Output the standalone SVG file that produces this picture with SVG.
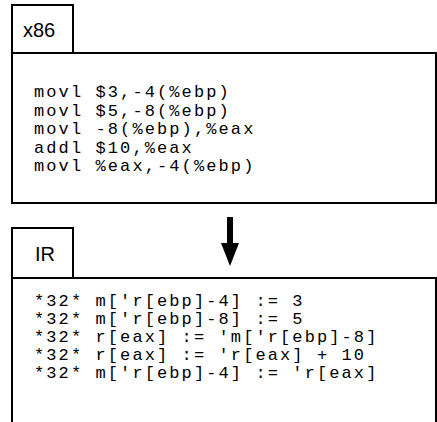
<svg xmlns="http://www.w3.org/2000/svg" width="437" height="422" viewBox="0 0 437 422">
<style>
.box{fill:#fff;stroke:#000;stroke-width:2}
.tab{font-family:"Liberation Sans",Arial,sans-serif;font-size:20px;fill:#000}
.code{font-family:"Liberation Mono","Courier New",monospace;font-size:17px;letter-spacing:2.1px;fill:#000;white-space:pre}
</style>
<rect width="437" height="422" fill="#fff"/>
<g id="x86">
<rect class="box" x="12" y="5" width="61" height="48"/>
<rect class="box" x="12" y="53" width="424" height="150"/>
<text class="tab" x="23" y="37">x86</text>
<text class="code" x="34" y="97" xml:space="preserve">movl $3,-4(%ebp)</text>
<text class="code" x="34" y="115.5" xml:space="preserve">movl $5,-8(%ebp)</text>
<text class="code" x="34" y="134" xml:space="preserve">movl -8(%ebp),%eax</text>
<text class="code" x="34" y="152.5" xml:space="preserve">addl $10,%eax</text>
<text class="code" x="34" y="171" xml:space="preserve">movl %eax,-4(%ebp)</text>
</g>
<g id="IR">
<rect class="box" x="12" y="228" width="61" height="50"/>
<rect class="box" x="12" y="278" width="424" height="200"/>
<text class="tab" x="35" y="261">IR</text>
<text class="code" x="34" y="306" xml:space="preserve">*32* m['r[ebp]-4] := 3</text>
<text class="code" x="34" y="324" xml:space="preserve">*32* m['r[ebp]-8] := 5</text>
<text class="code" x="34" y="342" xml:space="preserve">*32* r[eax] := 'm['r[ebp]-8]</text>
<text class="code" x="34" y="360" xml:space="preserve">*32* r[eax] := 'r[eax] + 10</text>
<text class="code" x="34" y="378" xml:space="preserve">*32* m['r[ebp]-4] := 'r[eax]</text>
</g>
<g id="connectors">
<rect x="227" y="217" width="6" height="27" fill="#000"/>
<polygon points="221,243 239,243 230,266" fill="#000"/>
</g>
</svg>
